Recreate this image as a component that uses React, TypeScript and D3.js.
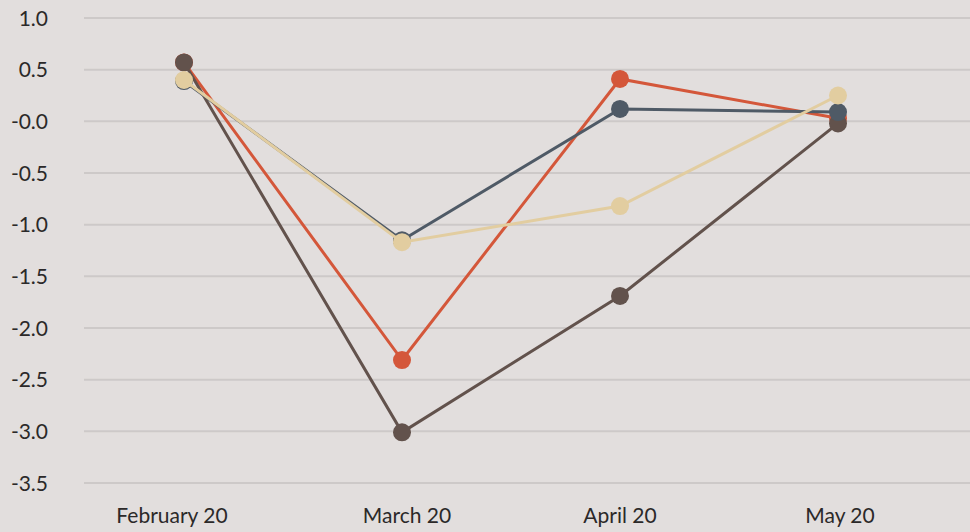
import React from "react";
import * as d3 from "d3";

const categories = ["February 20", "March 20", "April 20", "May 20"];
const yTicks = [1.0, 0.5, 0.0, -0.5, -1.0, -1.5, -2.0, -2.5, -3.0, -3.5];
const yTickLabels = ["1.0", "0.5", "-0.0", "-0.5", "-1.0", "-1.5", "-2.0", "-2.5", "-3.0", "-3.5"];

const seriesRed = [0.57, -2.31, 0.41, 0.03];
const seriesDark = [0.57, -3.01, -1.69, -0.02];
const seriesSlate = [0.39, -1.15, 0.12, 0.09];
const seriesBeige = [0.4, -1.17, -0.82, 0.25];

const series = [
  { name: "red", values: seriesRed, color: "#d4573a" },
  { name: "dark", values: seriesDark, color: "#62524c" },
  { name: "slate", values: seriesSlate, color: "#4f5a66" },
  { name: "beige", values: seriesBeige, color: "#e2cda0" },
];

// small horizontal nudges of the category labels, as in the reference layout
const labelNudge = [-12, 5, 0, 2];

const W = 970;
const H = 532;

export default function App() {
  const x = d3.scalePoint<string>().domain(categories).range([75, 947]).padding(0.5);
  const y = d3.scaleLinear().domain([1.0, -3.5]).range([18, 483]);
  const line = d3
    .line<number>()
    .x((_, i) => x(categories[i]) as number)
    .y((d) => y(d));
  const font = "Lato, 'Open Sans', sans-serif";
  return (
    <div style={{ position: "fixed", left: 0, top: 0 }}>
      <svg width={W} height={H} style={{ display: "block" }}>
        <rect x={0} y={0} width={W} height={H} fill="#e2dedd" />
        {yTicks.map((t, i) => (
          <g key={i}>
            <line x1={84} x2={W} y1={y(t)} y2={y(t)} stroke="#cdc9c8" strokeWidth={2} />
            <text
              x={48}
              y={y(t)}
              dy="0.36em"
              textAnchor="end"
              fontFamily={font}
              fontSize={21}
              fill="#2b2929"
            >
              {yTickLabels[i]}
            </text>
          </g>
        ))}
        {categories.map((c, i) => (
          <text
            key={c}
            x={(x(c) as number) + labelNudge[i]}
            y={523}
            textAnchor="middle"
            fontFamily={font}
            fontSize={21}
            fill="#2b2929"
          >
            {c}
          </text>
        ))}
        {series.map((s) => (
          <g key={s.name}>
            <path d={line(s.values) || ""} fill="none" stroke={s.color} strokeWidth={3} />
            {s.values.map((v, i) => (
              <circle key={i} cx={x(categories[i])} cy={y(v)} r={9} fill={s.color} />
            ))}
          </g>
        ))}
      </svg>
    </div>
  );
}
